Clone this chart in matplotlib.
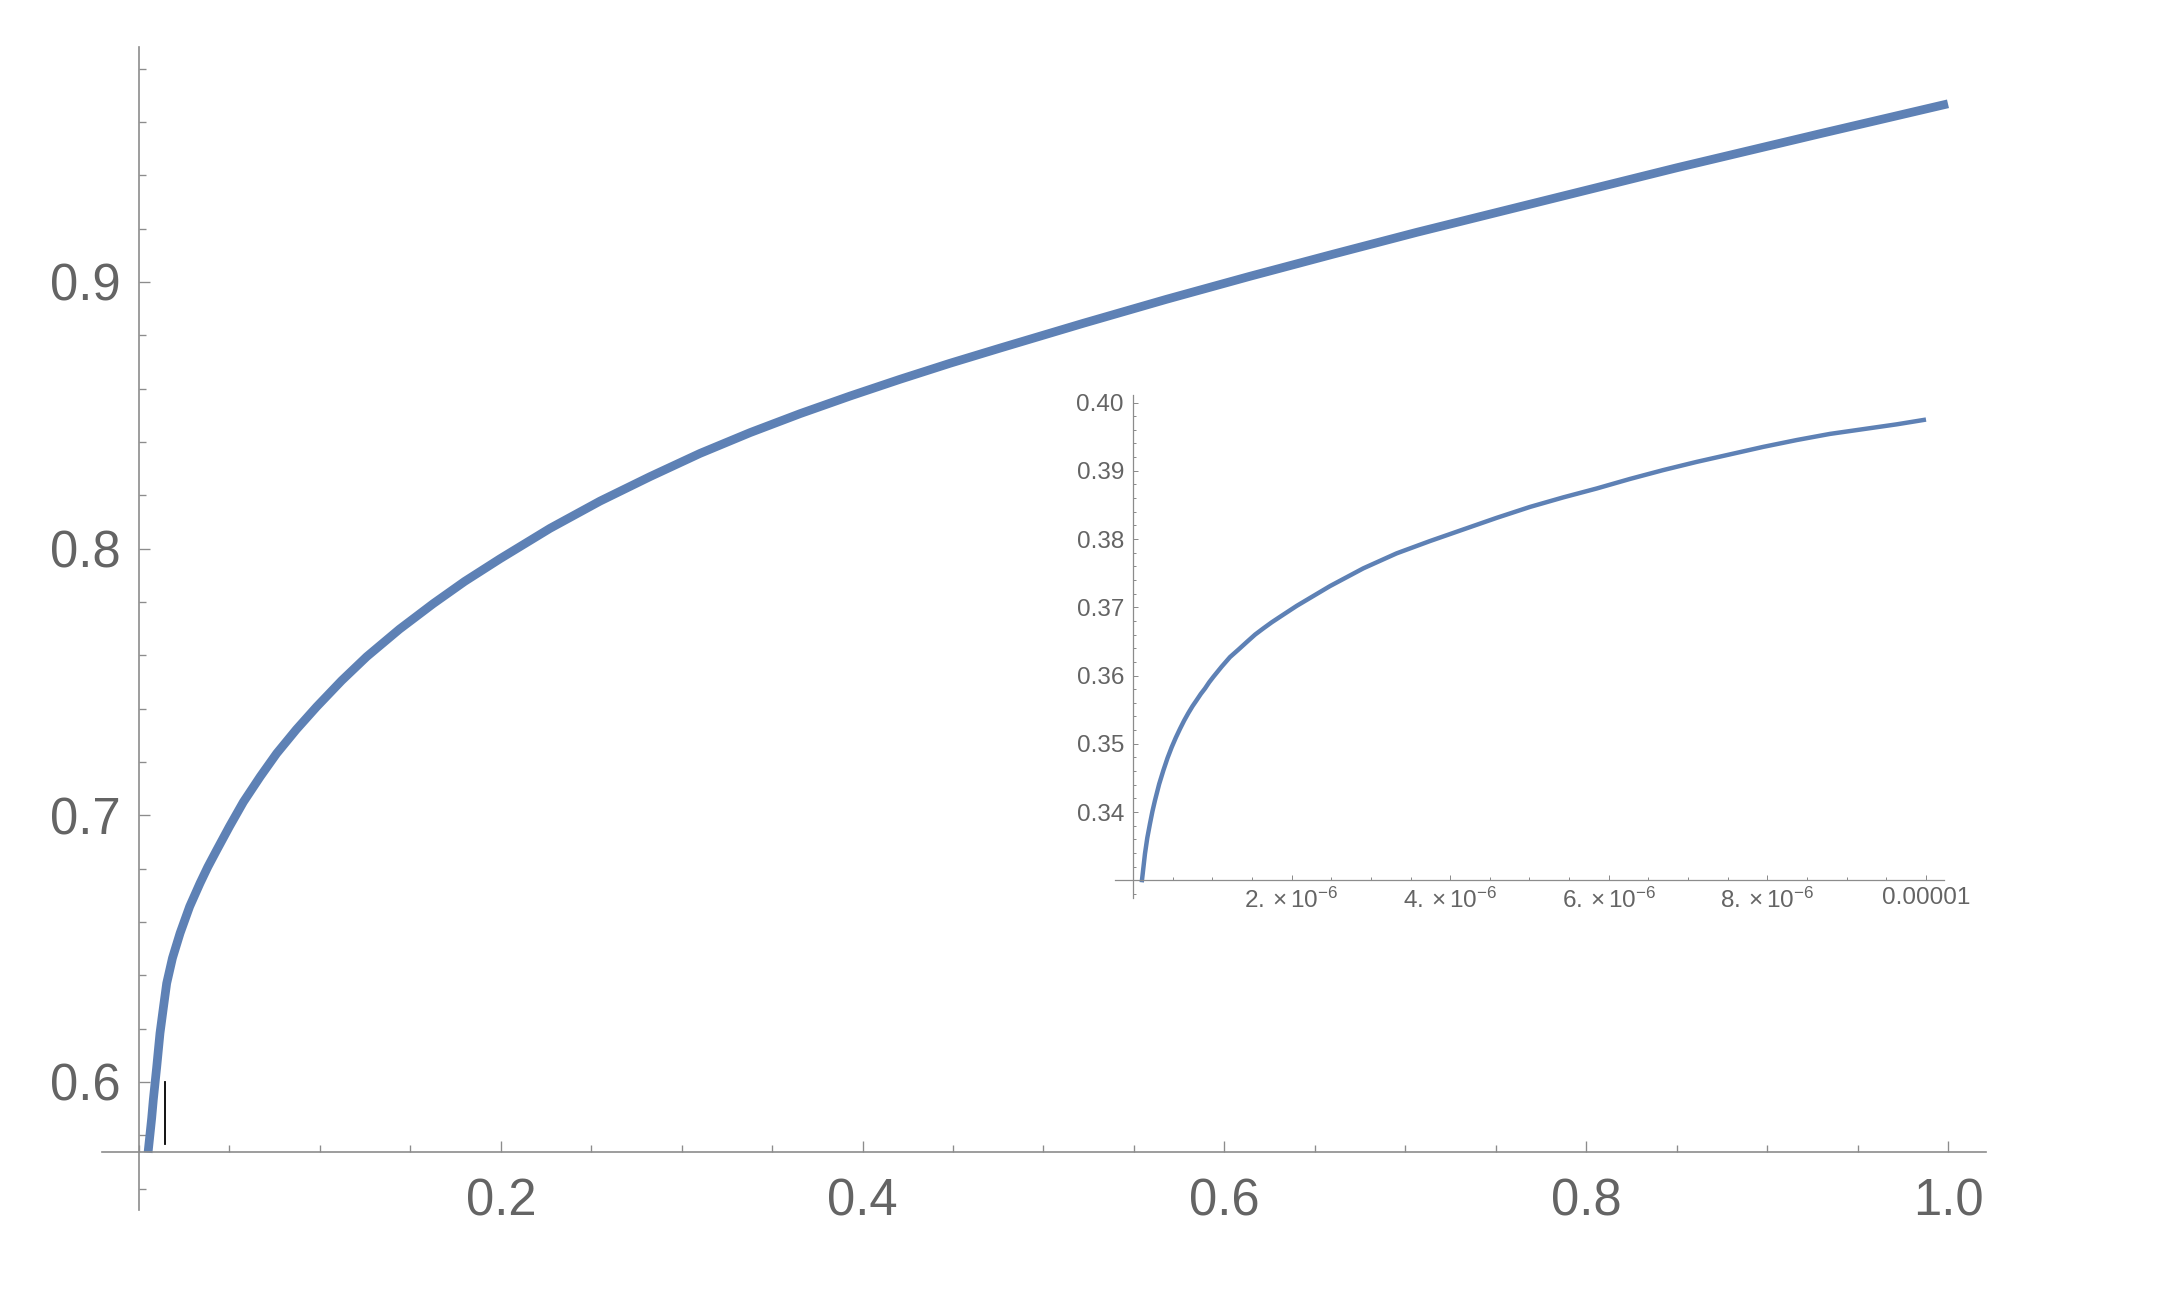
import matplotlib

matplotlib.use("Agg")

import matplotlib.pyplot as plt  # noqa: E402
from matplotlib.ticker import FixedFormatter, FixedLocator, MultipleLocator  # noqa: E402

plt.rcParams["font.family"] = ["Liberation Sans", "DejaVu Sans"]
plt.rcParams["mathtext.fontset"] = "custom"
plt.rcParams["mathtext.rm"] = "Liberation Sans"
plt.rcParams["mathtext.it"] = "Liberation Sans:italic"
plt.rcParams["mathtext.bf"] = "Liberation Sans:bold"

# main curve
main_x = [0.005, 0.007, 0.0079, 0.0098, 0.0116, 0.0135, 0.0153, 0.0185, 0.0227,
          0.028, 0.0337, 0.038, 0.043, 0.05, 0.0577, 0.067, 0.0761, 0.087, 0.0982,
          0.112, 0.1259, 0.144, 0.1627, 0.18, 0.1996, 0.2272, 0.2548, 0.2825,
          0.3101, 0.3378, 0.3654, 0.393, 0.4207, 0.4483, 0.476, 0.522, 0.568,
          0.614, 0.660, 0.7063, 0.752, 0.85, 0.93, 1.0]
main_y = [0.5735, 0.5864, 0.5933, 0.6057, 0.6183, 0.628, 0.637, 0.6465, 0.6558,
          0.6658, 0.6745, 0.6806, 0.687, 0.6958, 0.705, 0.7145, 0.7232, 0.7322,
          0.7407, 0.7505, 0.7595, 0.7698, 0.7794, 0.7877, 0.7962, 0.8076, 0.8178,
          0.827, 0.8357, 0.8435, 0.8506, 0.8572, 0.8635, 0.8695, 0.8752, 0.8845,
          0.8935, 0.9021, 0.9104, 0.9186, 0.9263, 0.9428, 0.9557, 0.9668]

# short black marker segment near the origin
mark_x = [0.0144, 0.0144]
mark_y = [0.5768, 0.6]

main_xticks = [0.2, 0.4, 0.6, 0.8, 1.0]
main_xlabels = ["0.2", "0.4", "0.6", "0.8", "1.0"]
main_yticks = [0.6, 0.7, 0.8, 0.9]
main_ylabels = ["0.6", "0.7", "0.8", "0.9"]

# inset curve
inset_x = [0.11e-6, 0.151e-6, 0.18e-6, 0.214e-6, 0.245e-6, 0.277e-6, 0.33e-6,
           0.383e-6, 0.435e-6, 0.488e-6, 0.54e-6, 0.593e-6, 0.645e-6, 0.698e-6,
           0.75e-6, 0.803e-6, 0.855e-6, 0.908e-6, 0.96e-6, 1.013e-6, 1.118e-6,
           1.223e-6, 1.33e-6, 1.434e-6, 1.54e-6, 1.643e-6, 1.75e-6, 1.854e-6,
           2.064e-6, 2.484e-6, 2.904e-6, 3.325e-6, 3.745e-6, 4.165e-6, 4.586e-6,
           5.006e-6, 5.426e-6, 5.847e-6, 6.267e-6, 6.687e-6, 7.108e-6, 7.528e-6,
           7.948e-6, 8.369e-6, 8.789e-6, 9.21e-6, 9.63e-6, 10.0e-6]
inset_y = [0.3297, 0.3339, 0.3362, 0.3383, 0.3401, 0.3417, 0.3441, 0.3461, 0.3479,
           0.3495, 0.3509, 0.3522, 0.3534, 0.3545, 0.3555, 0.3564, 0.3573, 0.3581,
           0.359, 0.3598, 0.3613, 0.3627, 0.3638, 0.3649, 0.366, 0.3669, 0.3678,
           0.3686, 0.3702, 0.3731, 0.3757, 0.3779, 0.3797, 0.3814, 0.3831, 0.3847,
           0.3861, 0.3874, 0.3888, 0.3901, 0.3913, 0.3924, 0.3935, 0.3945, 0.3954,
           0.3961, 0.3968, 0.3975]

inset_xticks = [2e-6, 4e-6, 6e-6, 8e-6, 1e-5]
inset_xlabels = [r"$2.\times10^{-6}$", r"$4.\times10^{-6}$", r"$6.\times10^{-6}$",
                 r"$8.\times10^{-6}$", "0.00001"]
inset_yticks = [0.34, 0.35, 0.36, 0.37, 0.38, 0.39, 0.40]
inset_ylabels = ["0.34", "0.35", "0.36", "0.37", "0.38", "0.39", "0.40"]

LINE = "#5e81b5"
TEXT = "#646464"
AXIS = "#8c8c8c"


def style_axes(ax, x0, y0, major, minor, width, size, pad_x, pad_y):
    for side in ("top", "right"):
        ax.spines[side].set_visible(False)
    ax.spines["left"].set_position(("data", x0))
    ax.spines["bottom"].set_position(("data", y0))
    for side in ("left", "bottom"):
        ax.spines[side].set_color(AXIS)
        ax.spines[side].set_linewidth(width)
    ax.tick_params(which="both", direction="in", color=AXIS, width=width * 0.8,
                   labelcolor=TEXT, labelsize=size)
    ax.tick_params(which="major", length=major)
    ax.tick_params(which="minor", length=minor)
    ax.tick_params(axis="x", pad=pad_x)
    ax.tick_params(axis="y", pad=pad_y)
    ax.patch.set_alpha(0)


fig = plt.figure(figsize=(21.76, 13.06), dpi=100)

ax = fig.add_axes([0.04688, 0.07351, 0.8658, 0.8905])
ax.plot(main_x, main_y, color=LINE, lw=6.3, solid_capstyle="butt",
        solid_joinstyle="round")
ax.plot(mark_x, mark_y, color="black", lw=1.3)
ax.set_xlim(-0.02045, 1.02101)
ax.set_ylim(0.552, 0.9881)
ax.xaxis.set_major_locator(FixedLocator(main_xticks))
ax.xaxis.set_major_formatter(FixedFormatter(main_xlabels))
ax.yaxis.set_major_locator(FixedLocator(main_yticks))
ax.yaxis.set_major_formatter(FixedFormatter(main_ylabels))
ax.xaxis.set_minor_locator(MultipleLocator(0.05))
ax.yaxis.set_minor_locator(MultipleLocator(0.02))
style_axes(ax, 0.0, 0.5736, 8, 5, 1.2, 36.5, 18, 13.5)

ins = fig.add_axes([0.51241, 0.3124, 0.38097, 0.38515])
ins.plot(inset_x, inset_y, color=LINE, lw=3.2, solid_capstyle="butt",
         solid_joinstyle="round")
ins.set_xlim(-0.227e-6, 10.227e-6)
ins.set_ylim(0.3274, 0.4011)
ins.xaxis.set_major_locator(FixedLocator(inset_xticks))
ins.xaxis.set_major_formatter(FixedFormatter(inset_xlabels))
ins.yaxis.set_major_locator(FixedLocator(inset_yticks))
ins.yaxis.set_major_formatter(FixedFormatter(inset_ylabels))
ins.xaxis.set_minor_locator(MultipleLocator(0.5e-6))
ins.yaxis.set_minor_locator(MultipleLocator(0.002))
ins.xaxis.get_offset_text().set_visible(False)
style_axes(ins, 0.0, 0.33, 3.6, 2.3, 0.9, 17.5, 5, 6.5)

fig.savefig("out.png", dpi=100)
